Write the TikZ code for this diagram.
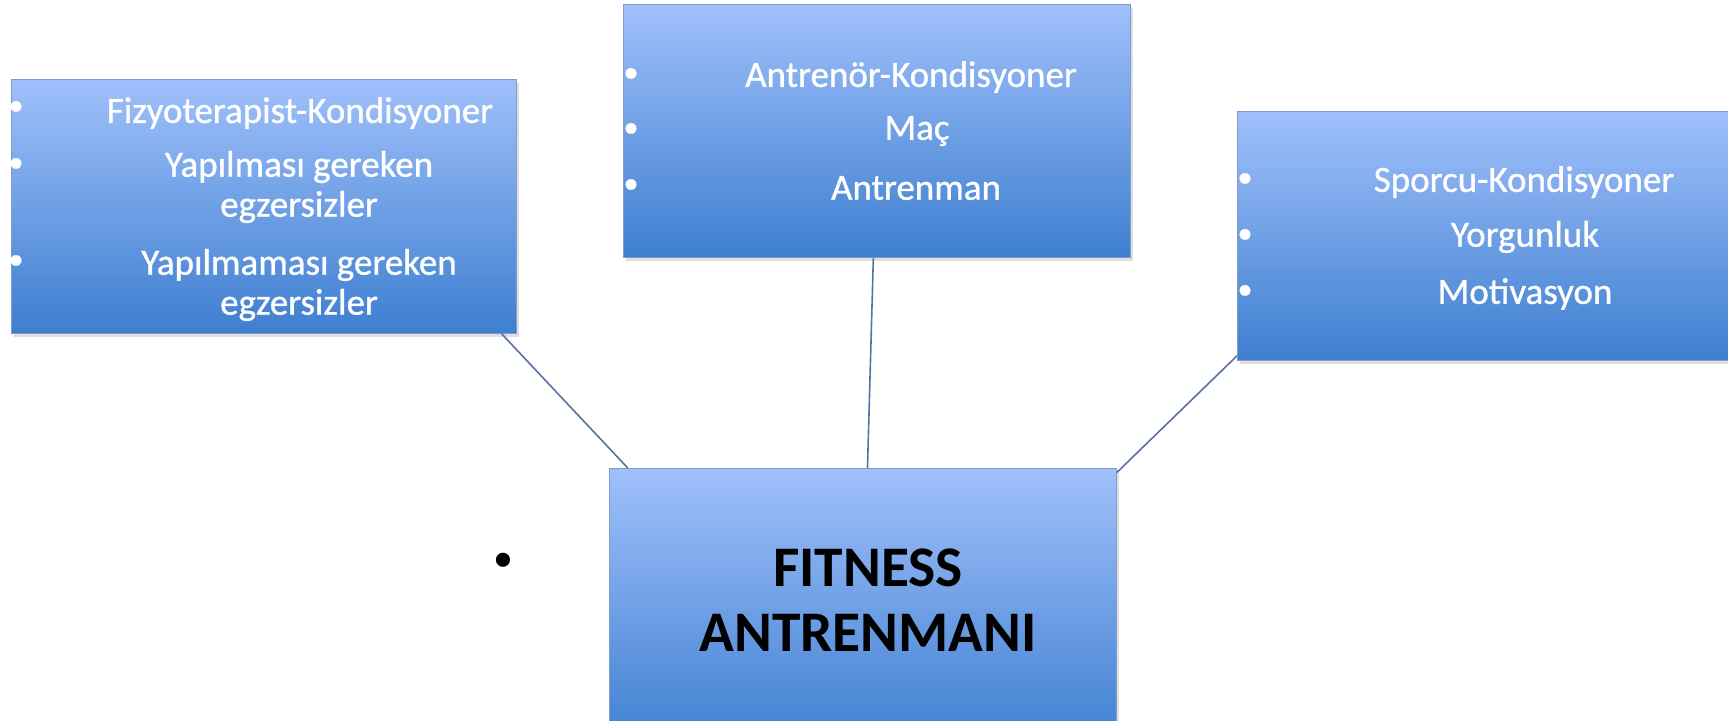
\documentclass[tikz,border=0pt]{standalone}
\usepackage{fontspec}
\setmainfont{Carlito}
\newfontfamily\itemfont[FakeBold=0.9]{Carlito}
\usetikzlibrary{calc,shadows}
\definecolor{btop}{HTML}{A0C0FB}
\definecolor{bbot}{HTML}{3E7FD0}
\definecolor{bedge}{HTML}{7F9CC8}
\definecolor{conn}{HTML}{56739E}
\tikzset{
  panel/.style={rectangle, draw=bedge, line width=0.4pt, top color=btop, bottom color=bbot,
    inner sep=0pt, anchor=north west,
    drop shadow={opacity=0.25, shadow xshift=1.5pt, shadow yshift=-2pt}},
  itemtxt/.style={text=white, font=\itemfont\fontsize{18.5}{20}\selectfont, align=center, inner sep=0pt},
  bul/.style={text=white, font=\itemfont\fontsize{15}{16}\selectfont, inner sep=0pt},
  conline/.style={draw=conn, line width=0.8pt},
  titletxt/.style={text=black, font=\fontsize{28.7}{32.5}\selectfont\bfseries, align=center, inner sep=0pt}
}
\begin{document}
\begin{tikzpicture}[x=0.5pt,y=-0.5pt]
\useasboundingbox (0,0) rectangle (1728,720);
\clip (0,0) rectangle (1728,720);
% boxes
\node[panel, minimum width=252.5pt, minimum height=127pt] (lbox) at (11,79) {};
\node[panel, minimum width=253.5pt, minimum height=126.5pt] (mbox) at (623,4) {};
\node[panel, minimum width=260pt, minimum height=124.5pt] (rbox) at (1237,111) {};
\node[panel, minimum width=253.5pt, minimum height=140pt] (fit) at (609,468) {};
% connectors
\draw[conline] ($(lbox.south west)!0.970!(lbox.south east)$) -- ($(fit.north west)!0.037!(fit.north east)$);
\draw[conline] ($(mbox.south west)!0.493!(mbox.south east)$) -- ($(fit.north west)!0.509!(fit.north east)$);
\draw[conline] ($(rbox.north west)!0.98!(rbox.south west)$) -- ($(fit.north east)!0.016!(fit.south east)$);
% left box text
\node[bul] (lb1) at (16,108) {•};
\node[bul] (lb2) at (16,165) {•};
\node[bul] (lb3) at (16,262) {•};
\node[itemtxt] (lt1) at (300,113) {Fizyoterapist-Kondisyoner};
\node[itemtxt] (lt2) at (299,187) {Yapılması gereken\\egzersizler};
\node[itemtxt] (lt3) at (299,285) {Yapılmaması gereken\\egzersizler};
% middle box text
\node[bul] (mb1) at (631,75) {•};
\node[bul] (mb2) at (631,130) {•};
\node[bul] (mb3) at (631,186) {•};
\node[itemtxt] (mt1) at (911,77) {Antrenör-Kondisyoner};
\node[itemtxt] (mt2) at (917,131) {Maç};
\node[itemtxt] (mt3) at (916,188) {Antrenman};
% right box text
\node[bul] (rb1) at (1245,180) {•};
\node[bul] (rb2) at (1245,236) {•};
\node[bul] (rb3) at (1245,292) {•};
\node[itemtxt] (rt1) at (1524,182) {Sporcu-Kondisyoner};
\node[itemtxt] (rt2) at (1525,237) {Yorgunluk};
\node[itemtxt] (rt3) at (1525,294) {Motivasyon};
% center text
\node[titletxt] (ft) at (868,600) {FITNESS\\ANTRENMANI};
\node[text=black, font=\fontsize{20}{24}\selectfont, inner sep=0pt] (dot) at (503,562) {•};
\end{tikzpicture}
\end{document}
